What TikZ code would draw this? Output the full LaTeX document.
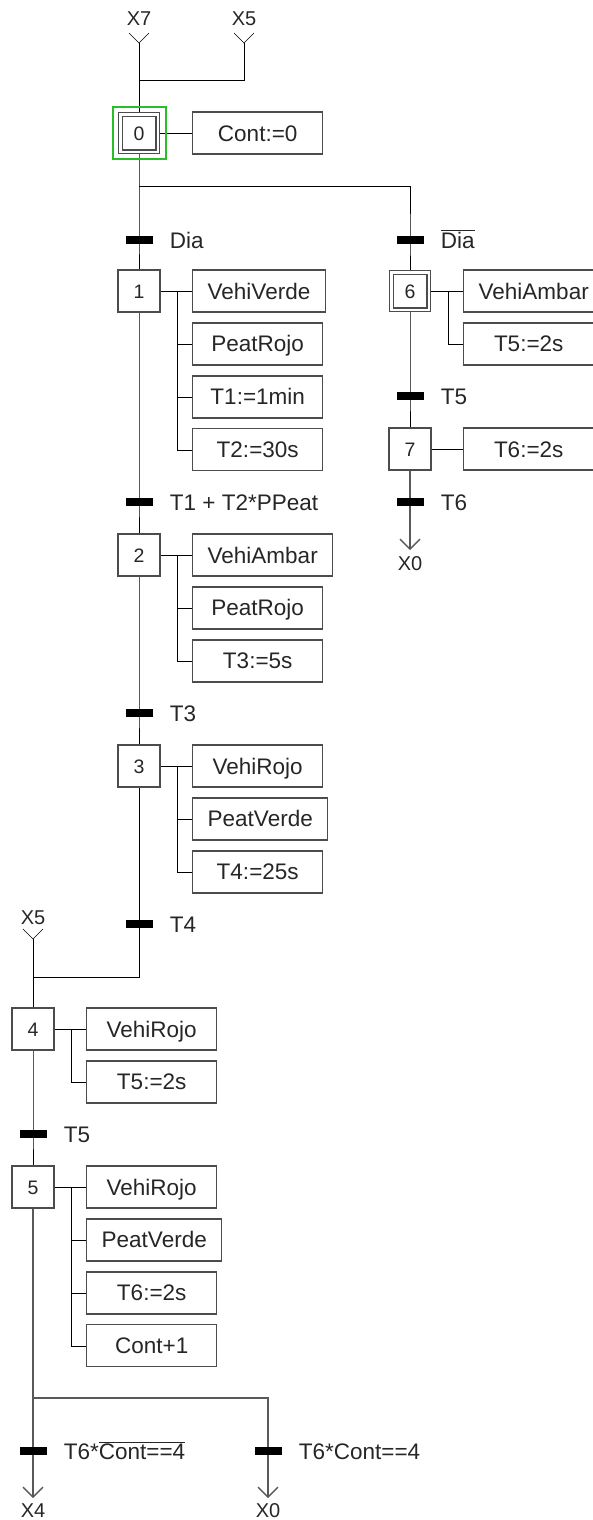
\documentclass[tikz,border=0pt]{standalone}
\usepackage{fontspec}
\setmainfont{Liberation Sans}
\usetikzlibrary{positioning,arrows.meta,backgrounds}
\definecolor{activo}{RGB}{40,190,40}
\newcommand{\barra}[1]{$\overline{\mbox{#1}}$}

\begin{document}
\begin{tikzpicture}[
  x=1pt, y=-1pt,
  every node/.style={font=\fontsize{22.5}{27}\selectfont, text=black!85,
    text height=16.1pt, text depth=0pt},
  linea/.style={line width=1.4pt, black!65},
  stepbox/.style={rectangle, draw=black!70, line width=1.4pt, minimum size=42pt,
    inner sep=0pt, font=\fontsize{19.5}{23}\selectfont, text height=14pt},
  initstep/.style={stepbox, double, double distance=2.5pt, minimum size=37.5pt},
  action/.style={rectangle, draw=black!70, line width=1.4pt, minimum width=130pt,
    minimum height=42pt, inner xsep=15pt, inner ysep=0pt},
  trans/.style={rectangle, fill=black, minimum width=27pt, minimum height=8pt,
    inner sep=0pt, text height=0pt},
  cond/.style={inner sep=0pt, label distance=17pt},
  io/.style={inner sep=0pt, font=\fontsize{20}{24}\selectfont, text height=14.3pt},
  salida/.style={linea, -{Straight Barb[length=10pt, width=20pt]}}
]
  \useasboundingbox (0,0) rectangle (593,1520);

  % entradas a la etapa inicial
  \node[io] (x7) at (139,18) {X7};
  \coordinate (x7f) at (139,43);
  \node[io] (x5) at (244,18) {X5};
  \coordinate (x5f) at (244,43);
  \coordinate (j0) at (139,80);

  % etapa 0
  \node[initstep] (s0) at (139,133) {0};
  \node[draw=activo, line width=2pt, minimum width=53pt, minimum height=52pt,
        text height=0pt] (s0a) at (s0) {};
  \node[action, right=53pt of s0.center] (a0) {Cont:=0};
  \coordinate (d0) at (139,186);

  \node[trans, label={[cond]right:Dia}] (t01) at (139,240) {};
  \node[trans, label={[cond]right:\barra{Dia}}] (t06) at (410,240) {};

  % rama de dia
  \node[stepbox] (s1) at (139,291) {1};
  \node[action, right=53pt of s1.center] (a1a) {VehiVerde};
  \node[action, below=9.5pt of a1a.south west, anchor=north west] (a1b) {PeatRojo};
  \node[action, below=9.5pt of a1b.south west, anchor=north west] (a1c) {T1:=1min};
  \node[action, below=9.5pt of a1c.south west, anchor=north west] (a1d) {T2:=30s};

  \node[trans, label={[cond]right:T1 + T2*PPeat}] (t12) at (139,502) {};

  \node[stepbox] (s2) at (139,555) {2};
  \node[action, right=53pt of s2.center] (a2a) {VehiAmbar};
  \node[action, below=9.5pt of a2a.south west, anchor=north west] (a2b) {PeatRojo};
  \node[action, below=9.5pt of a2b.south west, anchor=north west] (a2c) {T3:=5s};

  \node[trans, label={[cond]right:T3}] (t23) at (139,713) {};

  \node[stepbox] (s3) at (139,766) {3};
  \node[action, right=53pt of s3.center] (a3a) {VehiRojo};
  \node[action, below=9.5pt of a3a.south west, anchor=north west] (a3b) {PeatVerde};
  \node[action, below=9.5pt of a3b.south west, anchor=north west] (a3c) {T4:=25s};

  \node[trans, label={[cond]right:T4}] (t34) at (139,924) {};

  \node[io] (x5b) at (33,917) {X5};
  \coordinate (x5bf) at (33,939);
  \coordinate (j4) at (33,977);

  \node[stepbox] (s4) at (33,1029) {4};
  \node[action, right=53pt of s4.center] (a4a) {VehiRojo};
  \node[action, below=9.5pt of a4a.south west, anchor=north west] (a4b) {T5:=2s};

  \node[trans, label={[cond]right:T5}] (t45) at (33,1134) {};

  \node[stepbox] (s5) at (33,1187) {5};
  \node[action, right=53pt of s5.center] (a5a) {VehiRojo};
  \node[action, below=9.5pt of a5a.south west, anchor=north west] (a5b) {PeatVerde};
  \node[action, below=9.5pt of a5b.south west, anchor=north west] (a5c) {T6:=2s};
  \node[action, below=9.5pt of a5c.south west, anchor=north west] (a5d) {Cont+1};
  \coordinate (d5) at (33,1398);

  \node[trans, label={[cond]right:T6*\barra{Cont==4}}] (t5a) at (33,1451) {};
  \node[trans, label={[cond]right:T6*Cont==4}] (t5b) at (268,1451) {};
  \coordinate (x4f) at (33,1498);
  \node[io] (x4) at (33,1510) {X4};
  \coordinate (x0bf) at (268,1498);
  \node[io] (x0b) at (268,1510) {X0};

  % rama de noche
  \node[initstep] (s6) at (410,291) {6};
  \node[action, right=53pt of s6.center] (a6a) {VehiAmbar};
  \node[action, below=9.5pt of a6a.south west, anchor=north west] (a6b) {T5:=2s};

  \node[trans, label={[cond]right:T5}] (t67) at (410,396) {};

  \node[stepbox] (s7) at (410,449) {7};
  \node[action, right=53pt of s7.center] (a7) {T6:=2s};

  \node[trans, label={[cond]right:T6}] (t7x) at (410,502) {};
  \coordinate (x0f) at (410,550);
  \node[io] (x0) at (410,563) {X0};

  \begin{scope}[on background layer, linea]
    % entradas
    \draw (x7f) ++(-10,-10) -- (x7f) -- ++(10,-10);
    \draw (x5f) ++(-10,-10) -- (x5f) -- ++(10,-10);
    \draw (x5bf) ++(-10,-10) -- (x5bf) -- ++(10,-10);
    \draw (x7f) -- (s0.north);
    \draw (x5f) |- (j0);
    % secuencias
    \draw (s0.south) -- (t01.center) -- (s1.north);
    \draw (d0) -| (t06.center) -- (s6.north);
    \draw (s1.south) -- (t12.center) -- (s2.north);
    \draw (s2.south) -- (t23.center) -- (s3.north);
    \draw (s3.south) -- (t34.center);
    \draw (t34.center) |- (j4);
    \draw (x5bf) -- (s4.north);
    \draw (s4.south) -- (t45.center) -- (s5.north);
    \draw (s6.south) -- (t67.center) -- (s7.north);
    \draw[salida] (s7.south) -- (t7x.center) -- (x0f);
    \draw[salida] (s5.south) -- (t5a.center) -- (x4f);
    \draw[salida] (d5) -| (t5b.center) -- (x0bf);
    % acciones
    \draw (s0.east) -- (a0.west);
    \draw (s1.east) -- (a1a.west);
    \foreach \a in {a1b,a1c,a1d}
      \draw ([xshift=38pt]s1.center) |- (\a.west);
    \draw (s2.east) -- (a2a.west);
    \foreach \a in {a2b,a2c}
      \draw ([xshift=38pt]s2.center) |- (\a.west);
    \draw (s3.east) -- (a3a.west);
    \foreach \a in {a3b,a3c}
      \draw ([xshift=38pt]s3.center) |- (\a.west);
    \draw (s4.east) -- (a4a.west);
    \draw ([xshift=38pt]s4.center) |- (a4b.west);
    \draw (s5.east) -- (a5a.west);
    \foreach \a in {a5b,a5c,a5d}
      \draw ([xshift=38pt]s5.center) |- (\a.west);
    \draw (s6.east) -- (a6a.west);
    \draw ([xshift=38pt]s6.center) |- (a6b.west);
    \draw (s7.east) -- (a7.west);
  \end{scope}
\end{tikzpicture}
\end{document}
